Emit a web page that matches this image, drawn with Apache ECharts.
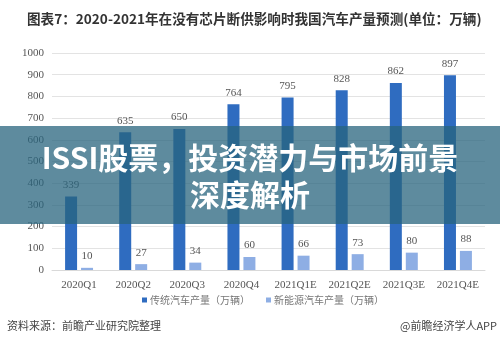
<!DOCTYPE html>
<html>
<head>
<meta charset="utf-8">
<script src="https://cdn.jsdelivr.net/npm/echarts@6/dist/echarts.min.js"></script>
<style>
  html, body { margin: 0; padding: 0; background: #fff; }
  #main { width: 500px; height: 351px; }
</style>
</head>
<body>
<div id="main"></div>
<script>
  // 数据
  var quarters = ['2020Q1', '2020Q2', '2020Q3', '2020Q4', '2021Q1E', '2021Q2E', '2021Q3E', '2021Q4E'];
  var traditional = [339, 635, 650, 764, 795, 828, 862, 897];   // 传统汽车产量
  var newEnergy = [10, 27, 34, 60, 66, 73, 80, 88];              // 新能源汽车产量
  var yTicks = [0, 100, 200, 300, 400, 500, 600, 700, 800, 900, 1000];

  var chart = echarts.init(document.getElementById('main'));
  var labelFont = 'Liberation Serif';

  var option = {
    backgroundColor: '#fff',
    animation: false,
    title: {
      text: '图表7：2020-2021年在没有芯片断供影响时我国汽车产量预测(单位：万辆)',
      left: 22,
      top: 7,
      textStyle: {
        fontFamily: 'Noto Sans CJK SC',
        fontSize: 13.6,
        fontWeight: 'bold',
        color: '#333'
      }
    },
    legend: {
      bottom: 41,
      left: 137,
      itemWidth: 5,
      itemHeight: 5,
      itemGap: 16,
      itemStyle: { borderWidth: 0 },
      icon: 'rect',
      textStyle: { fontSize: 10, color: '#777', fontFamily: 'Noto Sans CJK SC', padding: [0, 0, 0, -2] },
      data: ['传统汽车产量（万辆）', '新能源汽车产量（万辆）']
    },
    grid: {
      left: 52,
      right: 15,
      top: 53,
      bottom: 81
    },
    xAxis: {
      type: 'category',
      data: quarters,
      axisLine: { lineStyle: { color: '#d9d9d9' } },
      axisTick: { show: false },
      axisLabel: { color: '#555', fontSize: 11, fontFamily: labelFont, margin: 10, interval: 0 }
    },
    yAxis: {
      type: 'value',
      min: yTicks[0],
      max: yTicks[yTicks.length - 1],
      interval: 100,
      axisLine: { show: false },
      axisTick: { show: false },
      splitLine: { lineStyle: { color: '#e3e3e3' } },
      axisLabel: {
        color: '#555', fontSize: 11, fontFamily: labelFont, margin: 8,
        formatter: function (v) { return String(v); }
      }
    },
    series: [
      {
        name: '传统汽车产量（万辆）',
        type: 'bar',
        data: traditional,
        barWidth: 12,
        barGap: '33%',
        itemStyle: { color: '#2f6cc0' },
        label: { show: true, position: 'top', color: '#555', fontSize: 11, fontFamily: labelFont, distance: 6 }
      },
      {
        name: '新能源汽车产量（万辆）',
        type: 'bar',
        data: newEnergy,
        barWidth: 12,
        itemStyle: { color: '#8eaee4' },
        label: { show: true, position: 'top', color: '#555', fontSize: 11, fontFamily: labelFont, distance: 6 }
      }
    ],
    graphic: [
      {
        type: 'rect',
        left: 0,
        top: 126,
        shape: { width: 500, height: 98 },
        style: { fill: 'rgba(40, 100, 125, 0.75)' },
        z: 100
      },
      {
        type: 'text',
        left: 'center',
        top: 143,
        style: {
          text: 'ISSI股票，投资潜力与市场前景',
          fill: '#fff',
          font: 'bold 30px "Noto Sans CJK SC"'
        },
        z: 101
      },
      {
        type: 'text',
        left: 'center',
        top: 180,
        style: {
          text: '深度解析',
          fill: '#fff',
          font: 'bold 30px "Noto Sans CJK SC"'
        },
        z: 101
      },
      {
        type: 'text',
        left: 7,
        top: 320,
        style: {
          text: '资料来源：前瞻产业研究院整理',
          fill: '#444',
          font: '11px "Noto Sans CJK SC"'
        }
      },
      {
        type: 'text',
        right: 3,
        top: 320,
        style: {
          text: '@前瞻经济学人APP',
          fill: '#444',
          font: '11px "Noto Sans CJK SC"'
        }
      }
    ]
  };

  chart.setOption(option);
</script>
</body>
</html>
